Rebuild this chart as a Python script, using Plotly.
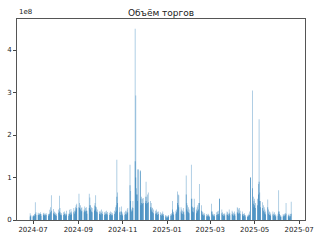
import pandas as pd
import plotly.graph_objects as go

# Trading days (business days) covered by the chart
start_date = "2024-06-27"
end_date = "2025-06-20"

# Daily volume, millions of shares: peak level (light) and base level (dark)
volume_peak_mln = [
    16, 12,
    10, 12, 14, 42, 18,
    17, 15, 16, 18, 14,
    16, 17, 13, 15, 16,
    14, 15, 24, 30, 58,
    26, 20, 18, 16, 15,
    25, 57, 28, 18, 16,
    18, 20, 16, 14, 22,
    15, 24, 18, 26, 20,
    28, 22, 30, 35, 38,
    62, 40, 35, 28, 30,
    25, 32, 28, 30, 22,
    62, 53, 35, 30, 28,
    34, 40, 58, 30, 25,
    20, 22, 18, 25, 20,
    18, 20, 16, 22, 19,
    17, 20, 15, 18, 16,
    22, 30, 35, 142, 65,
    30, 20, 32, 18, 15,
    18, 22, 20, 25, 28,
    130, 68, 25, 30, 45,
    450, 293, 75, 60, 120,
    117, 50, 55, 50, 52,
    55, 90, 55, 60, 65,
    45, 40, 30, 28, 25,
    22, 25, 20, 18, 20,
    18, 15, 16, 20, 14,
    12, 10, 8, 10, 12,
    14, 16, 45, 20, 18,
    22, 25, 67, 60, 58,
    30, 25, 22, 28, 20,
    105, 40, 35, 30, 25,
    130, 50, 30, 28, 50,
    25, 30, 35, 40, 85,
    35, 20, 18, 15, 16,
    14, 12, 15, 13, 10,
    38, 20, 15, 12, 14,
    18, 20, 22, 15, 50,
    25, 18, 15, 14, 16,
    20, 18, 15, 25, 17,
    22, 18, 16, 20, 15,
    30, 28, 25, 28, 22,
    20, 15, 14, 16, 12,
    10, 12, 15, 20, 100,
    305, 55, 45, 50, 40,
    50, 85, 237, 65, 45,
    42, 35, 30, 25, 20,
    48, 25, 20, 18, 15,
    20, 15, 18, 14, 12,
    15, 70, 20, 12, 10,
    14, 12, 15, 16, 40,
    12, 15, 10, 14, 43,
]
volume_base_mln = [
    8, 9,
    8, 9, 10, 15, 12,
    12, 11, 13, 14, 10,
    12, 13, 10, 11, 12,
    10, 11, 15, 18, 22,
    16, 14, 12, 11, 10,
    17, 20, 15, 12, 11,
    12, 14, 11, 10, 13,
    10, 15, 12, 16, 13,
    18, 15, 20, 25, 28,
    30, 28, 25, 20, 22,
    18, 22, 20, 22, 15,
    28, 35, 25, 20, 18,
    22, 25, 32, 20, 18,
    14, 15, 12, 16, 14,
    12, 14, 11, 15, 13,
    12, 14, 10, 12, 11,
    14, 18, 22, 55, 40,
    18, 12, 20, 12, 10,
    12, 14, 13, 16, 18,
    82, 45, 20, 22, 28,
    138, 100, 60, 45, 118,
    115, 35, 40, 38, 40,
    40, 45, 38, 40, 42,
    30, 25, 20, 18, 16,
    15, 16, 13, 12, 14,
    12, 10, 11, 13, 10,
    8, 6, 5, 7, 8,
    10, 11, 25, 14, 12,
    15, 18, 40, 35, 30,
    20, 16, 14, 18, 13,
    60, 25, 20, 18, 16,
    50, 32, 20, 18, 30,
    16, 20, 22, 25, 40,
    22, 13, 12, 10, 11,
    9, 8, 10, 9, 7,
    20, 13, 10, 8, 9,
    12, 13, 14, 10, 50,
    16, 12, 10, 9, 11,
    13, 12, 10, 15, 11,
    14, 12, 10, 13, 10,
    18, 16, 15, 17, 14,
    13, 10, 9, 11, 8,
    7, 8, 10, 12, 100,
    75, 38, 30, 35, 28,
    35, 60, 90, 45, 30,
    28, 22, 18, 15, 13,
    30, 15, 12, 11, 10,
    13, 10, 12, 9, 8,
    10, 20, 14, 8, 7,
    9, 8, 10, 11, 15,
    8, 10, 6, 9, 15,
]

tick_values = [0, 1e8, 2e8, 3e8, 4e8]
tick_labels = ["0", "1", "2", "3", "4"]

dates = pd.bdate_range(start_date, end_date)
n = min(len(dates), len(volume_peak_mln), len(volume_base_mln))
dates = dates[:n]
peak = [v * 1e6 for v in volume_peak_mln[:n]]
base = [v * 1e6 for v in volume_base_mln[:n]]

bar_w = 0.8 * 86400000

fig = go.Figure()
fig.add_trace(go.Bar(x=dates, y=peak, width=bar_w,
                     marker=dict(color="rgba(31,119,180,0.6)", line=dict(width=0))))
fig.add_trace(go.Bar(x=dates, y=base, width=bar_w,
                     marker=dict(color="rgba(31,119,180,0.85)", line=dict(width=0))))

fig.update_layout(
    width=320, height=240,
    autosize=False,
    margin=dict(l=17, r=15, t=19, b=20, pad=0, autoexpand=False),
    barmode="overlay",
    bargap=0.2,
    showlegend=False,
    paper_bgcolor="white", plot_bgcolor="white",
    font=dict(family="DejaVu Sans", size=7, color="#222"),
    title=dict(text="Объём торгов", x=0.5, xref="paper", xanchor="center",
               y=1, yref="paper", yanchor="bottom", pad=dict(b=3),
               automargin=False,
               font=dict(family="DejaVu Sans", size=9, color="#222")),
    xaxis=dict(
        type="date", range=["2024-06-09", "2025-07-09"],
        tick0="2024-07-01", dtick="M2", tickformat="%Y-%m",
        ticks="outside", ticklen=3, tickcolor="#444",
        showline=True, linecolor="#555", linewidth=1, mirror=True,
        showgrid=False, zeroline=False, automargin=False,
    ),
    yaxis=dict(
        range=[0, 4.73e8], tickvals=tick_values, ticktext=tick_labels,
        ticks="outside", ticklen=3, tickcolor="#444",
        showline=True, linecolor="#555", linewidth=1, mirror=True,
        showgrid=False, zeroline=False, automargin=False,
    ),
    annotations=[dict(text="1e8", x=0, xref="paper", xanchor="left",
                      y=1, yref="paper", yanchor="bottom", yshift=1,
                      showarrow=False, font=dict(size=7, color="#222"))],
)

fig.write_html("out.html")
